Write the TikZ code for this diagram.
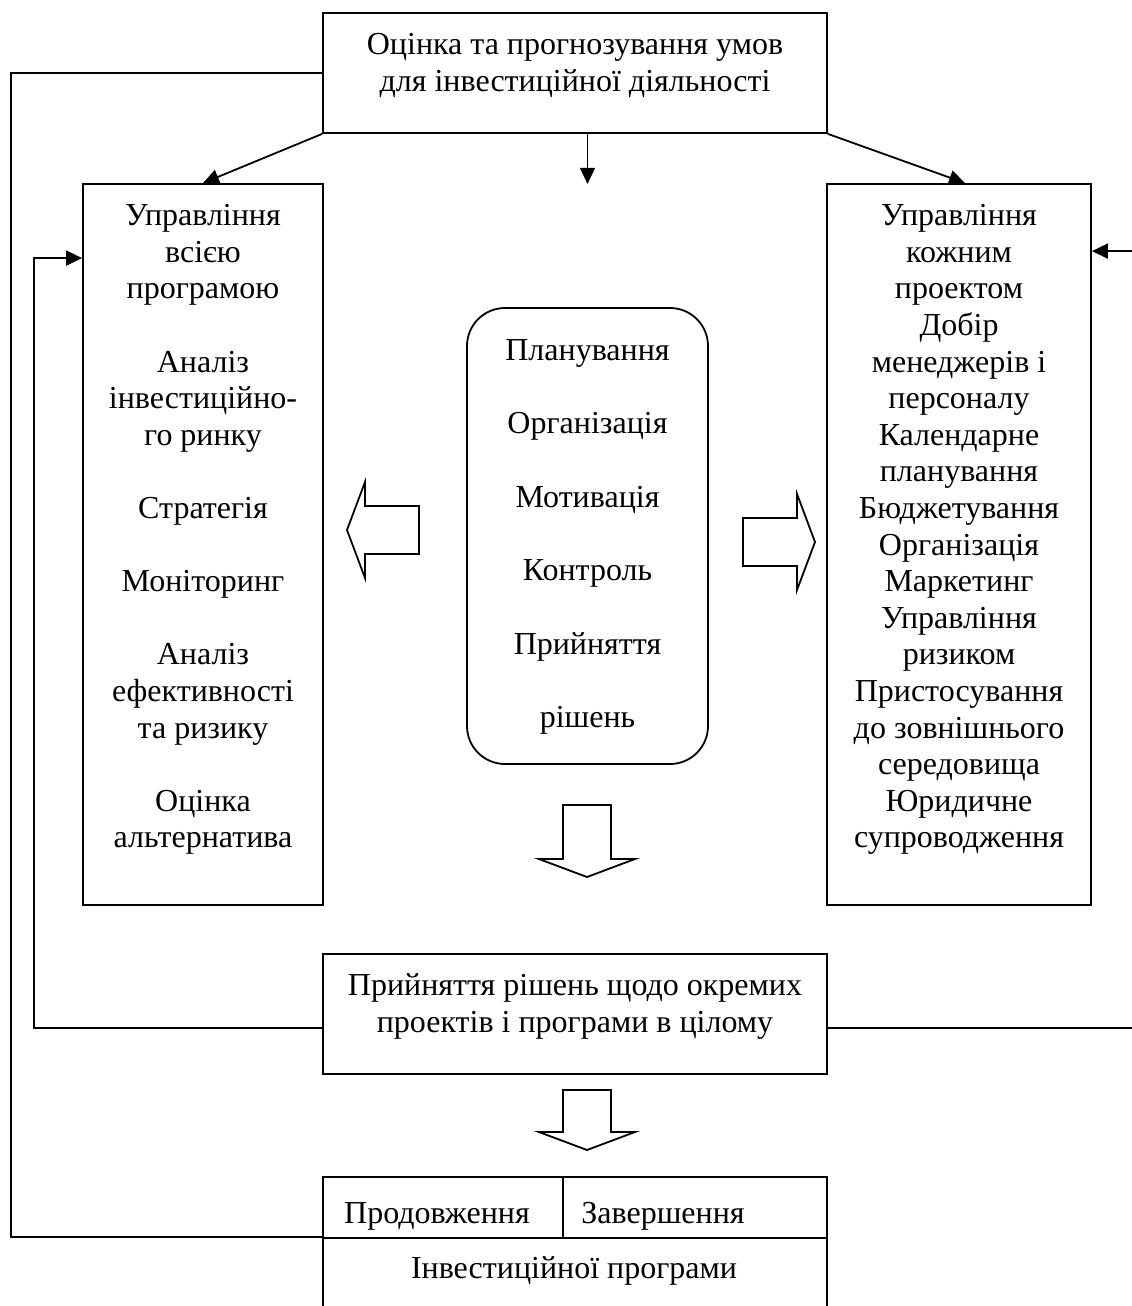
\documentclass[tikz,border=0pt]{standalone}
\usepackage{fontspec}
\setmainfont{Liberation Serif}
\usetikzlibrary{arrows.meta,positioning}

\begin{document}
\begin{tikzpicture}[
  x=0.5pt, y=-0.5pt,
  font=\fontsize{16pt}{18.3pt}\selectfont,
  frame/.style={draw, line width=0.9pt, inner sep=0pt},
  txt/.style={align=center, inner sep=0pt, anchor=north,
              execute at begin node={\rule{0pt}{12pt}}},
  lbl/.style={inner sep=0pt, anchor=base},
  arr/.style={-{Triangle[length=8pt,width=7.5pt]}, line width=0.9pt},
  fb/.style={line width=0.9pt},
  pics/blockarr/.style={code={
    \draw[line width=0.9pt] (0,-24) -- ({#1-18},-24) -- ({#1-18},-48) -- (#1,0)
      -- ({#1-18},48) -- ({#1-18},24) -- (0,24) -- cycle;}}]
\useasboundingbox (0,0) rectangle (1131,1306);

% ---- boxes ----
\node[frame, minimum width=252pt, minimum height=60pt] (top) at (575,73) {};
\node[frame, minimum width=120pt, minimum height=360.5pt] (lbox) at (203,544.5) {};
\node[frame, minimum width=132pt, minimum height=360.5pt] (rbox) at (959,544.5) {};
\node[frame, rounded corners=19pt, minimum width=120.5pt, minimum height=228pt] (plan) at (587.5,536) {};
\node[frame, minimum width=252pt, minimum height=60pt] (dec) at (575,1014) {};
\node[frame, minimum width=120pt, minimum height=30.5pt] (cont) at (443,1207.5) {};
\node[frame, minimum width=132pt, minimum height=30.5pt] (stop) at (695,1207.5) {};
\node[frame, minimum width=252pt, minimum height=51pt] (prog) at (575,1289) {};

% ---- texts ----
\node[txt] (toptext) at ([yshift=-10.5pt]top.north)
  {Оцінка та прогнозування умов\\для інвестиційної діяльності};
\node[txt] (ltext) at ([yshift=-10.5pt]lbox.north)
  {Управління\\всією\\програмою\\[18.3pt]Аналіз\\інвестиційно-\\го ринку\\[18.3pt]%
   Стратегія\\[18.3pt]Моніторинг\\[18.3pt]Аналіз\\ефективності\\та ризику\\[18.3pt]%
   Оцінка\\альтернатива};
\node[txt] (rtext) at ([yshift=-10.5pt]rbox.north)
  {Управління\\кожним\\проектом\\Добір\\менеджерів і\\персоналу\\Календарне\\планування\\%
   Бюджетування\\Організація\\Маркетинг\\Управління\\ризиком\\Пристосування\\%
   до зовнішнього\\середовища\\Юридичне\\супроводження};
\node[txt, font=\fontsize{16pt}{36.7pt}\selectfont] (plantext) at ([yshift=-16pt]plan.north)
  {Планування\\Організація\\Мотивація\\Контроль\\Прийняття\\рішень};
\node[txt] (dectext) at ([yshift=-10pt]dec.north)
  {Прийняття рішень щодо окремих\\проектів і програми в цілому};
\node[lbl] (conttext) at (437,1223) {Продовження};
\node[lbl] (stoptext) at (663,1223) {Завершення};
\node[lbl] (progtext) at (574,1278) {Інвестиційної програми};

% ---- arrows ----
\coordinate (gap) at ([yshift=-25pt]top.south -| plan.north);
\draw[arr] (top.south west) -- (lbox.north);
\draw[arr] (top.south east) -- ([xshift=3pt]rbox.north);
\draw[arr] (top.south -| plan.north) -- (gap);

\pic[rotate=180] at (419,530) {blockarr=72};
\pic at (743,542) {blockarr=72};
\pic[rotate=-90] at (587,805) {blockarr=72};
\pic[rotate=-90] at (587,1090) {blockarr=60};

% ---- feedback lines ----
\draw[fb] (top.west) -- ++(-311,0) |- (prog.north west);
\draw[arr] ([yshift=-7pt]dec.west) -- ++(-288,0) |- ([yshift=-37.5pt]lbox.north west);
\draw[arr] ([yshift=-7pt]dec.east) -- ++(320,0) |- ([yshift=-34pt]rbox.north east);
\end{tikzpicture}
\end{document}
